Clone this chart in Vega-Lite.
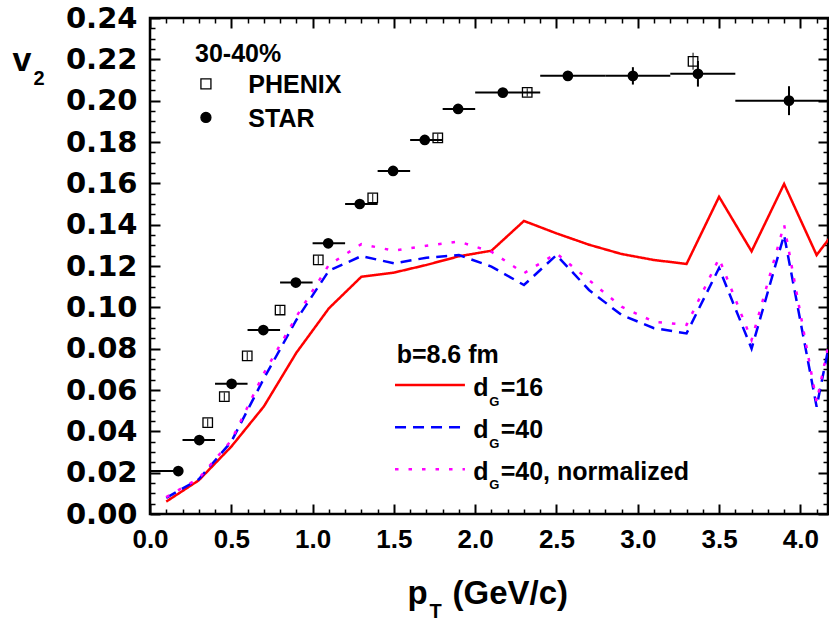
{
  "$schema": "https://vega.github.io/schema/vega-lite/v6.json",
  "width": 678,
  "height": 496,
  "autosize": {"type": "none"},
  "padding": {"left": 150, "top": 18, "right": 1, "bottom": 108},
  "background": "white",
  "config": {"view": {"stroke": "black", "strokeWidth": 2.5}},
  "datasets": {
    "star": [
      {"x": 0.174, "y": 0.0208, "xlo": 0.0, "xhi": 0.2, "ylo": 0.0205, "yhi": 0.0211},
      {"x": 0.303, "y": 0.0358, "xlo": 0.2, "xhi": 0.4, "ylo": 0.0355, "yhi": 0.0361},
      {"x": 0.502, "y": 0.063, "xlo": 0.4, "xhi": 0.6, "ylo": 0.0627, "yhi": 0.0633},
      {"x": 0.697, "y": 0.089, "xlo": 0.6, "xhi": 0.8, "ylo": 0.0887, "yhi": 0.0893},
      {"x": 0.897, "y": 0.112, "xlo": 0.8, "xhi": 1.0, "ylo": 0.1117, "yhi": 0.1123},
      {"x": 1.096, "y": 0.131, "xlo": 1.0, "xhi": 1.2, "ylo": 0.1307, "yhi": 0.1313},
      {"x": 1.29, "y": 0.15, "xlo": 1.2, "xhi": 1.4, "ylo": 0.1497, "yhi": 0.1503},
      {"x": 1.495, "y": 0.166, "xlo": 1.4, "xhi": 1.6, "ylo": 0.1657, "yhi": 0.1663},
      {"x": 1.69, "y": 0.181, "xlo": 1.6, "xhi": 1.8, "ylo": 0.1806, "yhi": 0.1814},
      {"x": 1.895, "y": 0.196, "xlo": 1.8, "xhi": 2.0, "ylo": 0.1955, "yhi": 0.1965},
      {"x": 2.17, "y": 0.2039, "xlo": 2.0, "xhi": 2.4, "ylo": 0.2033, "yhi": 0.2045},
      {"x": 2.57, "y": 0.212, "xlo": 2.4, "xhi": 2.8, "ylo": 0.211, "yhi": 0.213},
      {"x": 2.97, "y": 0.212, "xlo": 2.8, "xhi": 3.2, "ylo": 0.2078, "yhi": 0.2162},
      {"x": 3.37, "y": 0.213, "xlo": 3.2, "xhi": 3.6, "ylo": 0.2068, "yhi": 0.2192},
      {"x": 3.93, "y": 0.2, "xlo": 3.6, "xhi": 4.4, "ylo": 0.193, "yhi": 0.207}
    ],
    "phenix": [
      {"x": 0.355, "y": 0.0442, "ylo": 0.0422, "yhi": 0.0462},
      {"x": 0.457, "y": 0.0568, "ylo": 0.0548, "yhi": 0.0588},
      {"x": 0.598, "y": 0.0765, "ylo": 0.0745, "yhi": 0.0785},
      {"x": 0.8, "y": 0.0987, "ylo": 0.0967, "yhi": 0.1007},
      {"x": 1.035, "y": 0.123, "ylo": 0.121, "yhi": 0.125},
      {"x": 1.37, "y": 0.153, "ylo": 0.151, "yhi": 0.155},
      {"x": 1.77, "y": 0.182, "ylo": 0.18, "yhi": 0.184},
      {"x": 2.32, "y": 0.204, "ylo": 0.202, "yhi": 0.206},
      {"x": 3.34, "y": 0.219, "ylo": 0.215, "yhi": 0.2232}
    ],
    "model": [
      {"series": "dG16", "x": 0.1, "y": 0.006},
      {"series": "dG16", "x": 0.3, "y": 0.0163},
      {"series": "dG16", "x": 0.5, "y": 0.0326},
      {"series": "dG16", "x": 0.7, "y": 0.052},
      {"series": "dG16", "x": 0.9, "y": 0.078},
      {"series": "dG16", "x": 1.1, "y": 0.0995},
      {"series": "dG16", "x": 1.3, "y": 0.1148},
      {"series": "dG16", "x": 1.5, "y": 0.1168},
      {"series": "dG16", "x": 1.7, "y": 0.1205},
      {"series": "dG16", "x": 1.9, "y": 0.1247},
      {"series": "dG16", "x": 2.1, "y": 0.1274},
      {"series": "dG16", "x": 2.3, "y": 0.1418},
      {"series": "dG16", "x": 2.5, "y": 0.1358},
      {"series": "dG16", "x": 2.7, "y": 0.1303},
      {"series": "dG16", "x": 2.9, "y": 0.1258},
      {"series": "dG16", "x": 3.1, "y": 0.1229},
      {"series": "dG16", "x": 3.3, "y": 0.121},
      {"series": "dG16", "x": 3.5, "y": 0.1535},
      {"series": "dG16", "x": 3.7, "y": 0.1271},
      {"series": "dG16", "x": 3.9, "y": 0.1597},
      {"series": "dG16", "x": 4.1, "y": 0.1253},
      {"series": "dG16", "x": 4.3, "y": 0.146},
      {"series": "dG40", "x": 0.1, "y": 0.0078},
      {"series": "dG40", "x": 0.3, "y": 0.0168},
      {"series": "dG40", "x": 0.5, "y": 0.035},
      {"series": "dG40", "x": 0.7, "y": 0.0655},
      {"series": "dG40", "x": 0.9, "y": 0.0939},
      {"series": "dG40", "x": 1.1, "y": 0.1177},
      {"series": "dG40", "x": 1.3, "y": 0.1248},
      {"series": "dG40", "x": 1.5, "y": 0.1213},
      {"series": "dG40", "x": 1.7, "y": 0.124},
      {"series": "dG40", "x": 1.9, "y": 0.1253},
      {"series": "dG40", "x": 2.1, "y": 0.1197},
      {"series": "dG40", "x": 2.3, "y": 0.1108},
      {"series": "dG40", "x": 2.5, "y": 0.1253},
      {"series": "dG40", "x": 2.7, "y": 0.1084},
      {"series": "dG40", "x": 2.9, "y": 0.0963},
      {"series": "dG40", "x": 3.1, "y": 0.0899},
      {"series": "dG40", "x": 3.3, "y": 0.0874},
      {"series": "dG40", "x": 3.5, "y": 0.119},
      {"series": "dG40", "x": 3.7, "y": 0.08},
      {"series": "dG40", "x": 3.9, "y": 0.135},
      {"series": "dG40", "x": 4.1, "y": 0.0519},
      {"series": "dG40", "x": 4.3, "y": 0.13},
      {"series": "dG40n", "x": 0.1, "y": 0.0082},
      {"series": "dG40n", "x": 0.3, "y": 0.0172},
      {"series": "dG40n", "x": 0.5, "y": 0.0356},
      {"series": "dG40n", "x": 0.7, "y": 0.068},
      {"series": "dG40n", "x": 0.9, "y": 0.0955},
      {"series": "dG40n", "x": 1.1, "y": 0.1205},
      {"series": "dG40n", "x": 1.3, "y": 0.1306},
      {"series": "dG40n", "x": 1.5, "y": 0.1274},
      {"series": "dG40n", "x": 1.7, "y": 0.1298},
      {"series": "dG40n", "x": 1.9, "y": 0.1318},
      {"series": "dG40n", "x": 2.1, "y": 0.1269},
      {"series": "dG40n", "x": 2.3, "y": 0.1165},
      {"series": "dG40n", "x": 2.5, "y": 0.1261},
      {"series": "dG40n", "x": 2.7, "y": 0.1132},
      {"series": "dG40n", "x": 2.9, "y": 0.1003},
      {"series": "dG40n", "x": 3.1, "y": 0.093},
      {"series": "dG40n", "x": 3.3, "y": 0.0915},
      {"series": "dG40n", "x": 3.5, "y": 0.1237},
      {"series": "dG40n", "x": 3.7, "y": 0.0842},
      {"series": "dG40n", "x": 3.9, "y": 0.14},
      {"series": "dG40n", "x": 4.1, "y": 0.0543},
      {"series": "dG40n", "x": 4.3, "y": 0.13}
    ],
    "legendLines": [
      {"series": "dG16", "x": 1.507, "x2": 1.937, "y": 0.0624},
      {"series": "dG40", "x": 1.507, "x2": 1.937, "y": 0.04195},
      {"series": "dG40n", "x": 1.507, "x2": 1.937, "y": 0.02163}
    ],
    "legendSym": [
      {"exp": "PHENIX", "x": 0.344, "y": 0.2081},
      {"exp": "STAR", "x": 0.344, "y": 0.1919}
    ],
    "notes": [
      {"text": "30-40%", "kind": "main", "x": 0.277, "y": 0.2189},
      {"text": "PHENIX", "kind": "main", "x": 0.605, "y": 0.2036},
      {"text": "STAR", "kind": "main", "x": 0.605, "y": 0.1874},
      {"text": "b=8.6 fm", "kind": "main", "x": 1.517, "y": 0.0732},
      {"text": "d", "kind": "main", "x": 1.988, "y": 0.0571},
      {"text": "G", "kind": "sub", "x": 2.087, "y": 0.0523},
      {"text": "=16", "kind": "main", "x": 2.157, "y": 0.0571},
      {"text": "d", "kind": "main", "x": 1.988, "y": 0.0366},
      {"text": "G", "kind": "sub", "x": 2.087, "y": 0.0321},
      {"text": "=40", "kind": "main", "x": 2.157, "y": 0.0366},
      {"text": "d", "kind": "main", "x": 1.988, "y": 0.01645},
      {"text": "G", "kind": "sub", "x": 2.087, "y": 0.01195},
      {"text": "=40, normalized", "kind": "main", "x": 2.157, "y": 0.01645}
    ]
  },
  "resolve": {"axis": {"x": "independent", "y": "independent"}},
  "layer": [
    {
      "data": {"name": "star"},
      "mark": {"type": "rule", "color": "black", "strokeWidth": 2, "clip": true},
      "encoding": {
        "x": {"field": "xlo", "type": "quantitative",
          "scale": {"domain": [0, 4.17], "nice": false, "zero": false},
          "axis": {"orient": "bottom", "values": [0, 0.5, 1, 1.5, 2, 2.5, 3, 3.5, 4], "format": ".1f",
            "domain": false, "grid": false, "tickSize": -10, "tickWidth": 2, "tickColor": "black",
            "labelFont": "Liberation Sans", "labelFontWeight": "bold", "labelFontSize": 26, "labelColor": "black",
            "labelPadding": 22, "labelOverlap": false, "labelFlush": false,
            "title": "p", "titleFont": "Liberation Sans", "titleFontWeight": "bold", "titleFontSize": 33, "titleColor": "black",
            "titleX": 257, "titleY": 89, "titleAlign": "left", "titleBaseline": "alphabetic", "titleAngle": 0}},
        "x2": {"field": "xhi"},
        "y": {"field": "y", "type": "quantitative",
          "scale": {"domain": [0, 0.24], "nice": false, "zero": false},
          "axis": {"orient": "left", "values": [0, 0.02, 0.04, 0.06, 0.08, 0.1, 0.12, 0.14, 0.16, 0.18, 0.2, 0.22, 0.24], "format": ".2f",
            "domain": false, "grid": false, "tickSize": -10, "tickWidth": 2, "tickColor": "black",
            "labelFont": "DejaVu Sans", "labelFontWeight": "bold", "labelFontSize": 29, "labelColor": "black",
            "labelPadding": 23, "labelOverlap": false, "labelFlush": false,
            "title": "v", "titleFont": "Liberation Sans", "titleFontWeight": "bold", "titleFontSize": 34, "titleColor": "black",
            "titleX": -138, "titleY": 52, "titleAlign": "left", "titleBaseline": "alphabetic", "titleAngle": 0}}
      }
    },
    {
      "data": {"name": "star"},
      "mark": {"type": "rule", "color": "black", "strokeWidth": 2, "clip": true},
      "encoding": {
        "x": {"field": "x", "type": "quantitative",
          "axis": {"orient": "bottom", "values": [0.1, 0.2, 0.3, 0.4, 0.6, 0.7, 0.8, 0.9, 1.1, 1.2, 1.3, 1.4, 1.6, 1.7, 1.8, 1.9, 2.1, 2.2, 2.3, 2.4, 2.6, 2.7, 2.8, 2.9, 3.1, 3.2, 3.3, 3.4, 3.6, 3.7, 3.8, 3.9, 4.1],
            "domain": false, "grid": false, "labels": false, "tickSize": -5, "tickWidth": 1.5, "tickColor": "black",
            "title": "T", "titleFont": "Liberation Sans", "titleFontWeight": "bold", "titleFontSize": 20, "titleColor": "black",
            "titleX": 279, "titleY": 103, "titleAlign": "left", "titleBaseline": "alphabetic", "titleAngle": 0}},
        "y": {"field": "ylo", "type": "quantitative",
          "axis": {"orient": "left", "values": [0.005, 0.01, 0.015, 0.025, 0.03, 0.035, 0.045, 0.05, 0.055, 0.065, 0.07, 0.075, 0.085, 0.09, 0.095, 0.105, 0.11, 0.115, 0.125, 0.13, 0.135, 0.145, 0.15, 0.155, 0.165, 0.17, 0.175, 0.185, 0.19, 0.195, 0.205, 0.21, 0.215, 0.225, 0.23, 0.235],
            "domain": false, "grid": false, "labels": false, "tickSize": -5, "tickWidth": 1.5, "tickColor": "black",
            "title": "2", "titleFont": "Liberation Sans", "titleFontWeight": "bold", "titleFontSize": 20, "titleColor": "black",
            "titleX": -117, "titleY": 66, "titleAlign": "left", "titleBaseline": "alphabetic", "titleAngle": 0}},
        "y2": {"field": "yhi"}
      }
    },
    {
      "data": {"name": "star"},
      "mark": {"type": "point", "shape": "circle", "filled": true, "color": "black", "size": 115, "opacity": 1},
      "encoding": {
        "x": {"field": "x", "type": "quantitative",
          "axis": {"orient": "top", "values": [0, 0.5, 1, 1.5, 2, 2.5, 3, 3.5, 4], "domain": false, "grid": false, "labels": false,
            "tickSize": -10, "tickWidth": 2, "tickColor": "black", "title": null}},
        "y": {"field": "y", "type": "quantitative",
          "axis": {"orient": "right", "values": [0, 0.02, 0.04, 0.06, 0.08, 0.1, 0.12, 0.14, 0.16, 0.18, 0.2, 0.22, 0.24], "domain": false, "grid": false, "labels": false,
            "tickSize": -10, "tickWidth": 2, "tickColor": "black", "title": null}}
      }
    },
    {
      "data": {"name": "phenix"},
      "mark": {"type": "rule", "color": "black", "strokeWidth": 1},
      "encoding": {
        "x": {"field": "x", "type": "quantitative",
          "axis": {"orient": "top", "values": [0.1, 0.2, 0.3, 0.4, 0.6, 0.7, 0.8, 0.9, 1.1, 1.2, 1.3, 1.4, 1.6, 1.7, 1.8, 1.9, 2.1, 2.2, 2.3, 2.4, 2.6, 2.7, 2.8, 2.9, 3.1, 3.2, 3.3, 3.4, 3.6, 3.7, 3.8, 3.9, 4.1],
            "domain": false, "grid": false, "labels": false, "tickSize": -5, "tickWidth": 1.5, "tickColor": "black", "title": null}},
        "y": {"field": "ylo", "type": "quantitative",
          "axis": {"orient": "right", "values": [0.005, 0.01, 0.015, 0.025, 0.03, 0.035, 0.045, 0.05, 0.055, 0.065, 0.07, 0.075, 0.085, 0.09, 0.095, 0.105, 0.11, 0.115, 0.125, 0.13, 0.135, 0.145, 0.15, 0.155, 0.165, 0.17, 0.175, 0.185, 0.19, 0.195, 0.205, 0.21, 0.215, 0.225, 0.23, 0.235],
            "domain": false, "grid": false, "labels": false, "tickSize": -5, "tickWidth": 1.5, "tickColor": "black", "title": null}},
        "y2": {"field": "yhi"}
      }
    },
    {
      "data": {"name": "phenix"},
      "mark": {"type": "point", "shape": "square", "filled": false, "stroke": "black", "fill": "white", "fillOpacity": 0, "strokeWidth": 1.3, "size": 90, "opacity": 1},
      "encoding": {
        "x": {"field": "x", "type": "quantitative",
          "axis": {"orient": "bottom", "domain": false, "grid": false, "labels": false, "ticks": false,
            "title": "(GeV/c)", "titleFont": "Liberation Sans", "titleFontWeight": "bold", "titleFontSize": 33, "titleColor": "black",
            "titleX": 302, "titleY": 89, "titleAlign": "left", "titleBaseline": "alphabetic", "titleAngle": 0}},
        "y": {"field": "y", "type": "quantitative", "axis": null}
      }
    },
    {
      "data": {"name": "model"},
      "mark": {"type": "line", "strokeWidth": 2.5, "clip": true, "strokeCap": "butt"},
      "encoding": {
        "x": {"field": "x", "type": "quantitative", "axis": null},
        "y": {"field": "y", "type": "quantitative", "axis": null},
        "color": {"field": "series", "type": "nominal",
          "scale": {"domain": ["dG16", "dG40", "dG40n"], "range": ["#ff0000", "#0000ff", "#ff00ff"]}, "legend": null},
        "strokeDash": {"field": "series", "type": "nominal",
          "scale": {"domain": ["dG16", "dG40", "dG40n"], "range": [[1, 0], [11, 7], [3.5, 10]]}, "legend": null},
        "order": {"field": "x", "type": "quantitative"}
      }
    },
    {
      "data": {"name": "legendLines"},
      "mark": {"type": "rule", "strokeWidth": 2.5, "strokeCap": "butt"},
      "encoding": {
        "x": {"field": "x", "type": "quantitative", "axis": null},
        "x2": {"field": "x2"},
        "y": {"field": "y", "type": "quantitative", "axis": null},
        "color": {"field": "series", "type": "nominal", "legend": null},
        "strokeDash": {"field": "series", "type": "nominal", "legend": null}
      }
    },
    {
      "data": {"name": "legendSym"},
      "mark": {"type": "point", "strokeWidth": 1.3, "size": 100, "opacity": 1, "stroke": "black"},
      "encoding": {
        "x": {"field": "x", "type": "quantitative", "axis": null},
        "y": {"field": "y", "type": "quantitative", "axis": null},
        "shape": {"field": "exp", "type": "nominal", "scale": {"domain": ["PHENIX", "STAR"], "range": ["square", "circle"]}, "legend": null},
        "fill": {"field": "exp", "type": "nominal", "scale": {"domain": ["PHENIX", "STAR"], "range": ["white", "black"]}, "legend": null}
      }
    },
    {
      "data": {"name": "notes"},
      "transform": [{"filter": "datum.kind === 'main'"}],
      "mark": {"type": "text", "font": "Liberation Sans", "fontWeight": "bold", "fontSize": 25, "align": "left", "baseline": "alphabetic", "color": "black"},
      "encoding": {
        "x": {"field": "x", "type": "quantitative", "axis": null},
        "y": {"field": "y", "type": "quantitative", "axis": null},
        "text": {"field": "text"}
      }
    },
    {
      "data": {"name": "notes"},
      "transform": [{"filter": "datum.kind === 'sub'"}],
      "mark": {"type": "text", "font": "Liberation Sans", "fontWeight": "bold", "fontSize": 13, "align": "left", "baseline": "alphabetic", "color": "black"},
      "encoding": {
        "x": {"field": "x", "type": "quantitative", "axis": null},
        "y": {"field": "y", "type": "quantitative", "axis": null},
        "text": {"field": "text"}
      }
    }
  ]
}
